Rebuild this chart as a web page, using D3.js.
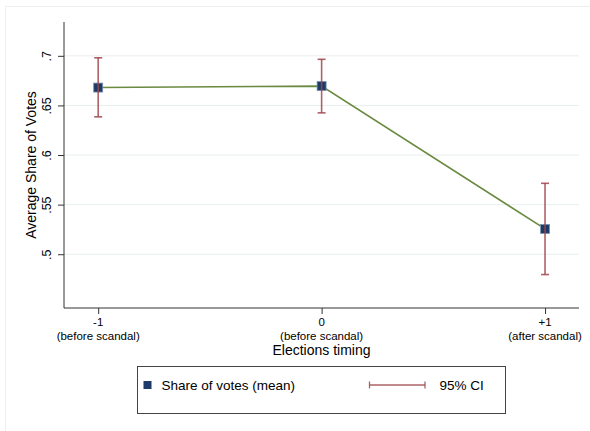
<!DOCTYPE html>
<html>
<head>
<meta charset="utf-8">
<script src="https://cdn.jsdelivr.net/npm/d3@7"></script>
<style>
  html, body { margin: 0; padding: 0; background: #fff; }
  svg { display: block; font-family: "Liberation Sans", Arial, Helvetica, sans-serif; }
</style>
</head>
<body>
<svg id="chart" width="590" height="431"></svg>
<script>
// Election timing positions and their labels
const timing = [-1, 0, 1];
const timingTop = ["-1", "0", "+1"];
const timingSub = ["(before scandal)", "(before scandal)", "(after scandal)"];

// Mean share of votes with 95% confidence bounds
const meanShare = [0.668, 0.6695, 0.5255];
const ciLow = [0.6385, 0.6425, 0.4795];
const ciHigh = [0.698, 0.6965, 0.5715];

// Y axis ticks
const yTicks = [0.5, 0.55, 0.6, 0.65, 0.7];
const yTickLabels = [".5", ".55", ".6", ".65", ".7"];

const svg = d3.select("#chart");

const plot = { left: 64, right: 579, top: 22, bottom: 308 };

const x = d3.scaleLinear().domain([-1.153, 1.152]).range([plot.left, plot.right]);
const y = d3.scaleLinear().domain([0.4458, 0.7341]).range([plot.bottom, plot.top]);

// faint outer frame
svg.append("path")
  .attr("d", "M5.5,431 V6.5 H590")
  .attr("fill", "none")
  .attr("stroke", "#eeeeee")
  .attr("stroke-width", 1);

// horizontal gridlines
svg.append("g")
  .selectAll("line")
  .data(yTicks)
  .join("line")
  .attr("x1", plot.left)
  .attr("x2", plot.right)
  .attr("y1", d => y(d))
  .attr("y2", d => y(d))
  .attr("stroke", "#e8eeee")
  .attr("stroke-width", 1);

// y axis
const yAxis = d3.axisLeft(y)
  .tickValues(yTicks)
  .tickFormat((d, i) => yTickLabels[i])
  .tickSize(6)
  .tickSizeOuter(0);
const gy = svg.append("g")
  .attr("transform", `translate(${plot.left},0)`)
  .call(yAxis);
gy.select(".domain").attr("d", `M0,${plot.top}V${plot.bottom}`).attr("stroke", "#333");
gy.selectAll(".tick line").attr("stroke", "#333");
gy.selectAll(".tick text")
  .attr("font-size", 12.5)
  .attr("fill", "#000")
  .attr("x", null)
  .attr("text-anchor", "middle")
  .attr("transform", "translate(-13,0) rotate(-90)")
  .attr("dy", "0");

// x axis
const xAxis = d3.axisBottom(x)
  .tickValues(timing)
  .tickFormat("")
  .tickSize(6)
  .tickSizeOuter(0);
const gx = svg.append("g")
  .attr("transform", `translate(0,${plot.bottom})`)
  .call(xAxis);
gx.select(".domain").attr("d", `M${plot.left},0H${plot.right}`).attr("stroke", "#333");
gx.selectAll(".tick line").attr("stroke", "#333");

// two-line tick labels
const xl = svg.append("g");
xl.selectAll("text.top")
  .data(timing)
  .join("text")
  .attr("class", "top")
  .attr("x", d => x(d))
  .attr("y", 325.5)
  .attr("text-anchor", "middle")
  .attr("font-size", 11.5)
  .text((d, i) => timingTop[i]);
xl.selectAll("text.sub")
  .data(timing)
  .join("text")
  .attr("class", "sub")
  .attr("x", d => x(d))
  .attr("y", 339.5)
  .attr("text-anchor", "middle")
  .attr("font-size", 11.5)
  .text((d, i) => timingSub[i]);

// axis titles
svg.append("text")
  .attr("x", (plot.left + plot.right) / 2)
  .attr("y", 355)
  .attr("text-anchor", "middle")
  .attr("font-size", 14)
  .text("Elections timing");

svg.append("text")
  .attr("transform", `translate(36,${(plot.top + plot.bottom) / 2}) rotate(-90)`)
  .attr("text-anchor", "middle")
  .attr("font-size", 14)
  .text("Average Share of Votes");

// connecting line of means
const lineGen = d3.line().x((d, i) => x(timing[i])).y(d => y(d));
svg.append("path")
  .datum(meanShare)
  .attr("d", lineGen)
  .attr("fill", "none")
  .attr("stroke", "#6a8a40")
  .attr("stroke-width", 1.6);

// mean markers
svg.append("g")
  .selectAll("rect")
  .data(meanShare)
  .join("rect")
  .attr("x", (d, i) => x(timing[i]) - 4.5)
  .attr("y", d => y(d) - 4.5)
  .attr("width", 9)
  .attr("height", 9)
  .attr("fill", "#1c3b68")
  .attr("stroke", "#7d93b0")
  .attr("stroke-width", 0.8);

// confidence intervals
const ci = svg.append("g").attr("stroke", "#a0474c").attr("stroke-width", 1.6).attr("stroke-opacity", 0.85);
ci.selectAll("line.v")
  .data(timing)
  .join("line")
  .attr("class", "v")
  .attr("x1", d => x(d)).attr("x2", d => x(d))
  .attr("y1", (d, i) => y(ciLow[i]))
  .attr("y2", (d, i) => y(ciHigh[i]));
ci.selectAll("line.hi")
  .data(timing)
  .join("line")
  .attr("class", "hi")
  .attr("x1", d => x(d) - 4).attr("x2", d => x(d) + 4)
  .attr("y1", (d, i) => y(ciHigh[i]))
  .attr("y2", (d, i) => y(ciHigh[i]));
ci.selectAll("line.lo")
  .data(timing)
  .join("line")
  .attr("class", "lo")
  .attr("x1", d => x(d) - 4).attr("x2", d => x(d) + 4)
  .attr("y1", (d, i) => y(ciLow[i]))
  .attr("y2", (d, i) => y(ciLow[i]));

// legend
const lg = svg.append("g");
lg.append("rect")
  .attr("x", 137.5).attr("y", 366.5)
  .attr("width", 368).attr("height", 47)
  .attr("fill", "#fff")
  .attr("stroke", "#444")
  .attr("stroke-width", 1);
lg.append("rect")
  .attr("x", 143.5).attr("y", 381)
  .attr("width", 8).attr("height", 8)
  .attr("fill", "#1c3b68");
lg.append("text")
  .attr("x", 161.5).attr("y", 390)
  .attr("font-size", 13.5)
  .text("Share of votes (mean)");
const lci = lg.append("g").attr("stroke", "#a0474c").attr("stroke-width", 1.3).attr("stroke-opacity", 0.85);
lci.append("line").attr("x1", 369.5).attr("x2", 425).attr("y1", 385).attr("y2", 385);
lci.append("line").attr("x1", 369.5).attr("x2", 369.5).attr("y1", 381.5).attr("y2", 388.5);
lci.append("line").attr("x1", 425).attr("x2", 425).attr("y1", 381.5).attr("y2", 388.5);
lg.append("text")
  .attr("x", 439.5).attr("y", 390)
  .attr("font-size", 13.5)
  .text("95% CI");
</script>
</body>
</html>
